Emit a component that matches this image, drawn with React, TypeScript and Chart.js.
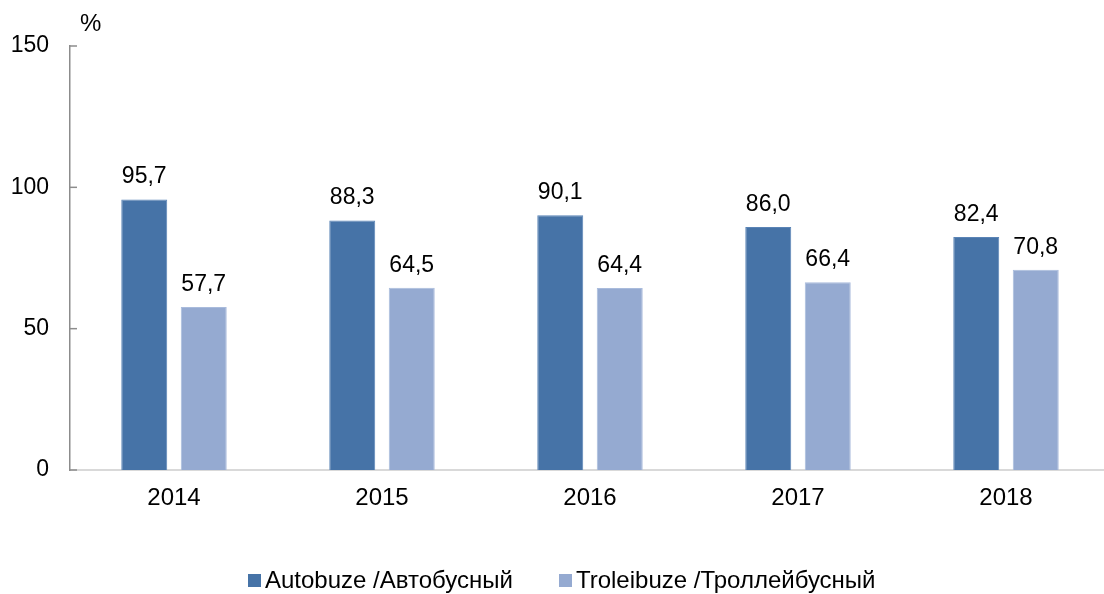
import React, { useEffect, useRef } from 'react';
import { Chart, registerables } from 'chart.js';

Chart.register(...registerables);

const years = ['2014', '2015', '2016', '2017', '2018'];
const autobuze = [95.7, 88.3, 90.1, 86.0, 82.4];
const troleibuze = [57.7, 64.5, 64.4, 66.4, 70.8];
const seriesNames = ['Autobuze /Автобусный', 'Troleibuze /Троллейбусный'];
const yMin = 0;
const yMax = 150;
const yStep = 50;
const unitLabel = '%';

const FONT = '"Liberation Sans", Arial, sans-serif';
const DARK = '#4673a7';
const LIGHT = '#95aad1';
const seriesColors = [DARK, LIGHT];

export default function App() {
  const ref = useRef<HTMLCanvasElement>(null);

  useEffect(() => {
    const canvas = ref.current;
    if (!canvas) return;

    const valueLabels = {
      id: 'valueLabels',
      afterDatasetsDraw(chart: any) {
        const ctx = chart.ctx;
        ctx.save();
        ctx.font = `23px ${FONT}`;
        ctx.fillStyle = '#000';
        ctx.textAlign = 'center';
        ctx.textBaseline = 'alphabetic';
        chart.data.datasets.forEach((ds: any, di: number) => {
          const meta = chart.getDatasetMeta(di);
          meta.data.forEach((bar: any, i: number) => {
            const v = ds.data[i] as number;
            ctx.fillText(v.toFixed(1).replace('.', ','), bar.x, bar.y - 16);
          });
        });
        ctx.restore();
      },
    };

    const axisExtras = {
      id: 'axisExtras',
      afterDraw(chart: any) {
        const ctx = chart.ctx;
        const ys = chart.scales.y;
        const left = chart.chartArea.left;
        ctx.save();
        ctx.strokeStyle = '#8c8c8c';
        ctx.lineWidth = 1.5;
        ys.ticks.forEach((t: any) => {
          const py = ys.getPixelForValue(t.value);
          ctx.beginPath();
          ctx.moveTo(left, py);
          ctx.lineTo(left + 7, py);
          ctx.stroke();
        });
        ctx.font = `24px ${FONT}`;
        ctx.fillStyle = '#000';
        ctx.textAlign = 'left';
        ctx.textBaseline = 'alphabetic';
        ctx.fillText(unitLabel, left + 10, chart.chartArea.top - 15);
        ctx.restore();
      },
    };

    const chart = new Chart(canvas, {
      type: 'bar',
      data: {
        labels: years,
        datasets: [
          {
            label: seriesNames[0],
            data: autobuze,
            backgroundColor: DARK,
            borderColor: '#5a84b6',
            borderWidth: 1,
            categoryPercentage: 0.572,
            barPercentage: 0.773,
          },
          {
            label: seriesNames[1],
            data: troleibuze,
            backgroundColor: LIGHT,
            borderColor: '#a9bbdc',
            borderWidth: 1,
            categoryPercentage: 0.572,
            barPercentage: 0.773,
          },
        ],
      },
      options: {
        responsive: false,
        animation: false,
        layout: { padding: { top: 46, left: 0, right: 2, bottom: 0 } },
        plugins: {
          tooltip: { enabled: false },
          legend: { display: false },
        },
        scales: {
          x: {
            grid: { display: false, drawTicks: false },
            border: { display: true, color: '#d9d9d9', width: 2 },
            ticks: { color: '#000', font: { family: FONT, size: 24 }, padding: 14 },
            afterFit: (scale: any) => {
              scale.height = 124;
            },
          },
          y: {
            min: yMin,
            max: yMax,
            grid: { display: false, drawTicks: false },
            border: { display: true, color: '#8c8c8c', width: 1.5 },
            ticks: {
              stepSize: yStep,
              color: '#000',
              padding: 21,
              font: { family: FONT, size: 23 },
            },
            afterFit: (scale: any) => {
              scale.width = 70;
            },
          },
        },
      },
      plugins: [valueLabels, axisExtras],
    });

    return () => chart.destroy();
  }, []);

  return (
    <div
      style={{
        position: 'absolute',
        left: 0,
        top: 0,
        width: 1104,
        height: 594,
        overflow: 'hidden',
        background: '#fff',
      }}
    >
      <canvas ref={ref} width={1112} height={594} />
      <div
        style={{
          position: 'absolute',
          left: 248,
          top: 566,
          display: 'flex',
          alignItems: 'center',
          fontFamily: FONT,
          fontSize: 24,
          lineHeight: '28px',
          color: '#000',
          whiteSpace: 'nowrap',
        }}
      >
        {seriesNames.map((name, i) => (
          <div key={name} style={{ display: 'flex', alignItems: 'center', marginRight: i === 0 ? 46 : 0 }}>
            <span
              style={{
                display: 'inline-block',
                width: 13,
                height: 13,
                background: seriesColors[i],
                marginRight: 4,
              }}
            />
            <span>{name}</span>
          </div>
        ))}
      </div>
    </div>
  );
}
